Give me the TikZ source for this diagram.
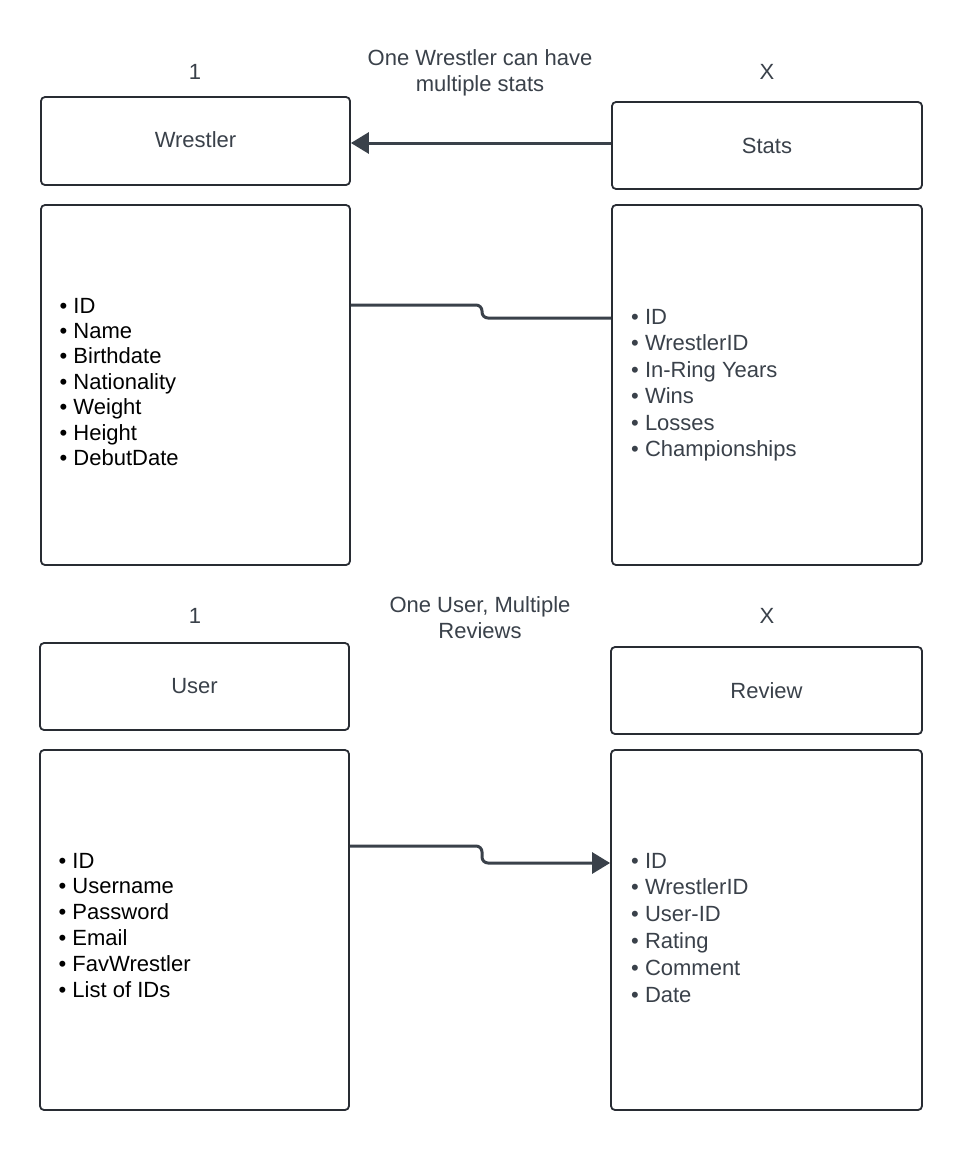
\documentclass[tikz,border=0pt]{standalone}
\usepackage{fontspec}
\setmainfont{Liberation Sans}
\usetikzlibrary{arrows.meta}
\definecolor{ink}{HTML}{282C33}
\definecolor{slate}{HTML}{3A414A}
\begin{document}
\begin{tikzpicture}[x=1pt,y=-1pt,
  box/.style={draw=ink,line width=1.8pt,rounded corners=4pt,inner sep=0pt},
  head/.style={text=slate,font=\fontsize{22}{26}\selectfont},
  caption/.style={text=slate,font=\fontsize{22}{26}\selectfont,align=center},
  itemL/.style={anchor=base west,inner sep=0pt,text=black,font=\fontsize{22}{26}\selectfont},
  itemR/.style={anchor=base west,inner sep=0pt,text=slate,font=\fontsize{22}{26}\selectfont},
  link/.style={draw=slate,line width=3pt,rounded corners=6pt},
  tip/.style={-{Triangle[length=18pt,width=21pt]}}]
\useasboundingbox[fill=white] (0,0) rectangle (963,1151);

% entity boxes: header above, attribute list below
\node[box,minimum width=309pt,minimum height=88pt] (whead) at (195.5,141) {};
\node[box,minimum width=309pt,minimum height=360pt] (wbody) at (195.5,385) {};
\node[box,minimum width=310pt,minimum height=87pt] (shead) at (767,145.5) {};
\node[box,minimum width=310pt,minimum height=360pt] (sbody) at (767,385) {};
\node[box,minimum width=309pt,minimum height=87pt] (uhead) at (194.5,686.5) {};
\node[box,minimum width=309pt,minimum height=360pt] (ubody) at (194.5,930) {};
\node[box,minimum width=311pt,minimum height=87pt] (rhead) at (766.5,690.5) {};
\node[box,minimum width=311pt,minimum height=360pt] (rbody) at (766.5,930) {};

% header titles
\node[head] (wtitle) at ([yshift=1pt]whead) {Wrestler};
\node[head] (stitle) at (shead) {Stats};
\node[head] (utitle) at (uhead) {User};
\node[head] (rtitle) at (rhead) {Review};

% cardinalities and relationship captions
\node[head] (c1) at (195,72) {1};
\node[head] (cx) at (767,72) {X};
\node[caption] (cap1) at (480,73) {One Wrestler can have\\multiple stats};
\node[head] (c2) at (195,616) {1};
\node[head] (cy) at (767,616) {X};
\node[caption] (cap2) at (480,618) {One User, Multiple\\Reviews};

% attribute lists
\foreach \t [count=\i] in {ID,Name,Birthdate,Nationality,Weight,Height,DebutDate}
  \node[itemL] (wl\i) at (59.5,{313+25.4*(\i-1)}) {• \t};
\foreach \t [count=\i] in {ID,WrestlerID,In-Ring Years,Wins,Losses,Championships}
  \node[itemR] (sl\i) at (631,{324+26.55*(\i-1)}) {• \t};
\foreach \t [count=\i] in {ID,Username,Password,Email,FavWrestler,List of IDs}
  \node[itemL] (ul\i) at (58.5,{868+25.8*(\i-1)}) {• \t};
\foreach \t [count=\i] in {ID,WrestlerID,User-ID,Rating,Comment,Date}
  \node[itemR] (rl\i) at (631,{868+26.8*(\i-1)}) {• \t};

% connectors
\coordinate (sa) at ([yshift=2.5pt]shead.west);
\draw[link,tip] (sa) -- (sa -| whead.east);

\coordinate (w1) at ([yshift=80pt]wbody.east);
\coordinate (s1) at ([yshift=67pt]sbody.west);
\draw[link] (w1) -- (482,0 |- w1) -- (482,0 |- s1) -- (s1);

\coordinate (u1) at ([yshift=84pt]ubody.east);
\coordinate (r1) at ([yshift=67pt]rbody.west);
\draw[link,tip] (u1) -- (482,0 |- u1) -- (482,0 |- r1) -- (r1);
\end{tikzpicture}
\end{document}
